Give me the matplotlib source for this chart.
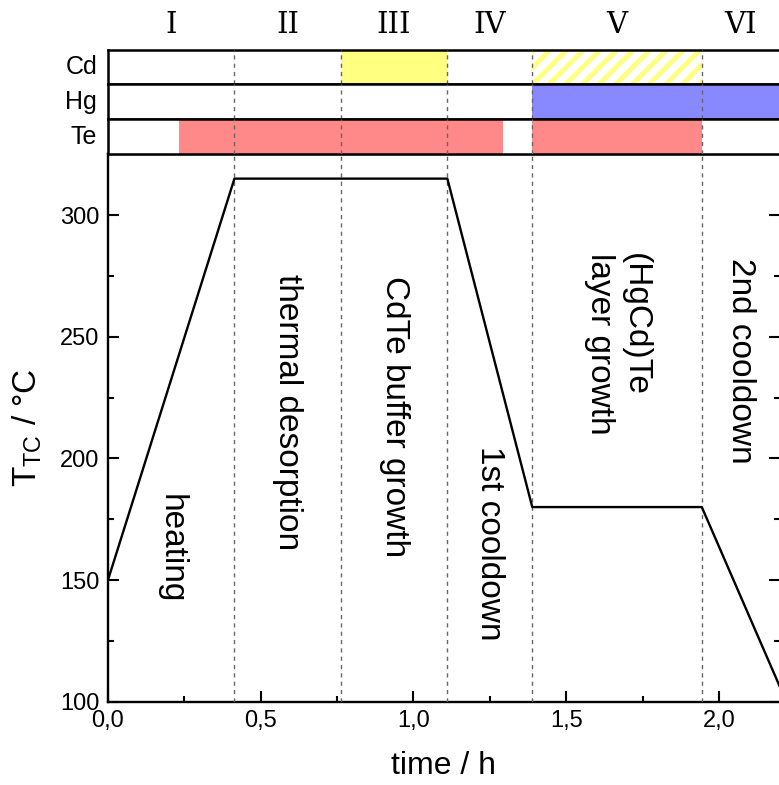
import matplotlib
matplotlib.use("Agg")
import matplotlib.pyplot as plt
from matplotlib.ticker import MultipleLocator, FixedLocator, FixedFormatter

plt.rcParams['font.family'] = ['Liberation Sans', 'DejaVu Sans']
plt.rcParams['mathtext.default'] = 'regular'
plt.rcParams['hatch.linewidth'] = 3.5

# thermocouple temperature profile
time_h = [0.0, 0.414, 1.111, 1.389, 1.944, 2.2]
temp_c = [150, 315, 315, 180, 180, 106]

# growth phases
bounds = [0.0, 0.414, 0.762, 1.111, 1.389, 1.944, 2.2]
phase_ids = ['I', 'II', 'III', 'IV', 'V', 'VI']
phase_names = ['heating', 'thermal desorption', 'CdTe buffer growth',
               '1st cooldown', '(HgCd)Te\nlayer growth', '2nd cooldown']
phase_text_y = [163, 219, 217, 165, 247, 240]

# source cells open (start, end) in h
cd_open = [(0.762, 1.111)]
cd_partial = [(1.389, 1.944)]
hg_open = [(1.389, 2.2)]
te_open = [(0.2325, 1.294), (1.389, 1.944)]

xticks = [0.0, 0.5, 1.0, 1.5, 2.0]
xticklabels = ['0,0', '0,5', '1,0', '1,5', '2,0']
yticks = [100, 150, 200, 250, 300]

dash_kw = dict(color='#666666', ls=(0, (3, 3)), lw=1, zorder=3)

fig = plt.figure(figsize=(7.79, 7.85), dpi=100)
ax = fig.add_axes([0.1386, 0.10611, 0.8627, 0.69733])

ax.plot(time_h, temp_c, color='black', lw=1.7, zorder=4)
for b in bounds[1:-1]:
    ax.axvline(b, **dash_kw)

ax.set_xlim(0, 2.2)
ax.set_ylim(100, 325)
ax.xaxis.set_major_locator(FixedLocator(xticks))
ax.xaxis.set_major_formatter(FixedFormatter(xticklabels))
ax.xaxis.set_minor_locator(MultipleLocator(0.25))
ax.yaxis.set_major_locator(FixedLocator(yticks))
ax.yaxis.set_minor_locator(MultipleLocator(25))
ax.tick_params(which='both', direction='in', right=True, width=1.5, labelsize=17, pad=6)
ax.tick_params(which='major', length=8)
ax.tick_params(which='minor', length=4)
for s in ['left', 'bottom', 'top']:
    ax.spines[s].set_linewidth(1.7)
ax.spines['right'].set_visible(False)
ax.set_xlabel('time / h', fontsize=23, labelpad=14)
ax.set_ylabel('$T_{TC}$ / °C', fontsize=24, labelpad=12)

for i, name in enumerate(phase_names):
    xc = (bounds[i] + bounds[i + 1]) / 2
    ax.text(xc, phase_text_y[i], name, rotation=-90, ha='center', va='center',
            multialignment='left', fontsize=24)

# shutter strips above the profile
rows = [('Cd', 0.89299, 0.04331), ('Hg', 0.84803, 0.04497), ('Te', 0.80344, 0.04459)]
strips = {}
for name, bottom, height in rows:
    sa = fig.add_axes([0.1386, bottom, 0.8627, height], sharex=ax)
    sa.set_ylim(0, 1)
    sa.tick_params(which='both', left=False, bottom=False, labelleft=False, labelbottom=False)
    for s in ['left', 'bottom', 'top']:
        sa.spines[s].set_linewidth(1.8)
    sa.spines['right'].set_visible(False)
    for b in bounds[1:-1]:
        sa.axvline(b, **dash_kw)
    sa.text(-0.016, 0.5, name, transform=sa.transAxes, ha='right', va='center', fontsize=18)
    strips[name] = sa

for a, b in cd_open:
    strips['Cd'].axvspan(a, b, color='#ffff80', lw=0, zorder=1)
for a, b in cd_partial:
    strips['Cd'].axvspan(a, b, facecolor='white', edgecolor='#ffff80', hatch='//', lw=0, zorder=1)
for a, b in hg_open:
    strips['Hg'].axvspan(a, b, color='#8888ff', lw=0, zorder=1)
for a, b in te_open:
    strips['Te'].axvspan(a, b, color='#ff8888', lw=0, zorder=1)

for i, pid in enumerate(phase_ids):
    xc = (bounds[i] + bounds[i + 1]) / 2
    strips['Cd'].text(xc, 1.75, pid, ha='center', va='center', fontsize=21,
                      family='DejaVu Serif')

fig.savefig('out.png', dpi=100)
